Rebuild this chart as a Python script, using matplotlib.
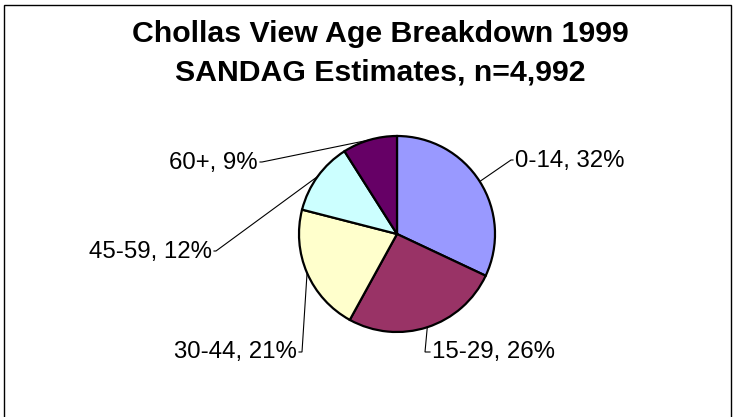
import numpy as np
import matplotlib
matplotlib.use("Agg")
import matplotlib.pyplot as plt
from matplotlib.patches import Rectangle

categories = ["0-14", "15-29", "30-44", "45-59", "60+"]
percents = [32, 26, 21, 12, 9]
colors = ["#9999FF", "#993366", "#FFFFCC", "#CCFFFF", "#660066"]
title_lines = ["Chollas View Age Breakdown 1999", "SANDAG Estimates, n=4,992"]

W, H = 735, 417
fig = plt.figure(figsize=(W / 100, H / 100), dpi=100)
ax = fig.add_axes([0, 0, 1, 1])

cx, cy, r = 397, H - 234, 98
wedges, _ = ax.pie(percents, colors=colors, startangle=90, counterclock=False,
                   center=(cx, cy), radius=r,
                   wedgeprops=dict(edgecolor="black", linewidth=1.6))
ax.set_xlim(0, W)
ax.set_ylim(0, H)
ax.set_aspect("auto")
ax.axis("off")

# label layout: (elbow x, elbow y from top, text x, baseline y from top, ha)
layout = [
    (511, 160, 515, 166.5, "left"),
    (425, 352, 432, 358, "left"),
    (302, 352, 297, 358, "right"),
    (216, 251, 212, 258, "right"),
    (262, 162, 258, 168.5, "right"),
]
fs = 17.3
for w, cat, p, (ex, ey, tx, by, ha) in zip(wedges, categories, percents, layout):
    ang = np.deg2rad((w.theta1 + w.theta2) / 2)
    px, py = cx + r * np.cos(ang), cy + r * np.sin(ang)
    ey_d = H - ey
    hx = tx - 2 if ha == "left" else tx + 2
    ax.plot([px, ex, hx], [py, ey_d, ey_d], color="black", linewidth=0.8,
            solid_joinstyle="miter")
    ax.text(tx, H - by, f"{cat}, {p}%", ha=ha, va="baseline",
            fontsize=fs, family="Liberation Sans", color="black")

ax.text(380, H - 41.7, title_lines[0], ha="center", va="baseline",
        fontsize=21.8, fontweight="bold", family="Liberation Sans")
ax.text(380, H - 80, title_lines[1], ha="center", va="baseline",
        fontsize=21.8, fontweight="bold", family="Liberation Sans")

ax.add_patch(Rectangle((4.5, -10), 726.5, H - 4.5 + 10, fill=False,
                       edgecolor="black", linewidth=1.0))

fig.savefig("out.png", dpi=100)
